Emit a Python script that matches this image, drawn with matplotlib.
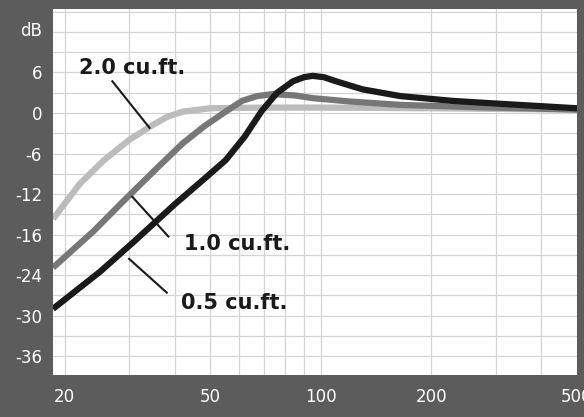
import matplotlib
matplotlib.use("Agg")
import matplotlib.pyplot as plt

freq_20 = [18.6, 22, 25.6, 30, 34.5, 38, 42, 50, 70, 100, 200, 500]
db_20 = [-15.7, -10.5, -7.0, -4.0, -1.9, -0.6, 0.2, 0.7, 0.8, 0.8, 0.7, 0.5]

freq_10 = [18.6, 24, 29, 36, 42, 48, 55, 61, 67, 74, 85, 95, 120, 165, 250, 500]
db_10 = [-22.9, -17.5, -13.0, -8.0, -4.5, -2.0, 0.2, 1.8, 2.5, 2.8, 2.6, 2.2, 1.7, 1.2, 0.9, 0.5]

freq_05 = [18.6, 25, 31, 40, 48, 55, 62, 69, 76, 84, 90, 95, 102, 110, 130, 165, 228, 300, 500]
db_05 = [-29.0, -23.5, -19.0, -13.5, -9.8, -7.0, -3.5, 0.3, 3.0, 4.7, 5.3, 5.5, 5.3, 4.7, 3.5, 2.5, 1.8, 1.4, 0.7]

y_ticks = [12.5, 6, 0, -6, -12, -18, -24, -30, -36]
y_labels = ["dB", "6", "0", "-6", "-12", "-16", "-24", "-30", "-36"]
x_ticks = [20, 50, 100, 200, 500]
x_labels = ["20", "50", "100", "200", "500"]

fig = plt.figure(figsize=(5.84, 4.17), dpi=100)
fig.patch.set_facecolor("#5c5c5c")
ax = fig.add_axes([53/584, 42/417, 524/584, 366/417])
ax.set_facecolor("white")
ax.set_xscale("log")
ax.set_xlim(18.6, 500)
ax.set_ylim(-38.8, 15.4)

for v in list(range(20, 100, 10)) + list(range(100, 600, 100)):
    ax.axvline(v, color="#d4d4d4", lw=0.9, zorder=0)
for h in range(-36, 16, 3):
    ax.axhline(h, color="#d4d4d4", lw=0.9, zorder=0)

ax.plot(freq_20, db_20, color="#bcbcbc", lw=4.5, solid_capstyle="butt", zorder=3)
ax.plot(freq_10, db_10, color="#777777", lw=4.5, solid_capstyle="butt", zorder=4)
ax.plot(freq_05, db_05, color="#1a1a1a", lw=4.5, solid_capstyle="butt", zorder=5)

ax.set_yticks(y_ticks)
ax.set_yticklabels(y_labels)
ax.set_xticks(x_ticks)
ax.set_xticklabels(x_labels)
ax.minorticks_off()
ax.tick_params(axis="both", length=0, colors="white", labelsize=12)
ax.tick_params(axis="y", pad=8)
ax.tick_params(axis="x", pad=9)
for s in ax.spines.values():
    s.set_visible(False)

lab = dict(fontsize=15, fontweight="bold", color="#1a1a1a", va="center", ha="left")
ax.text(21.9, 6.6, "2.0 cu.ft.", **lab)
ax.plot([27, 34.1], [4.7, -2.2], color="#1a1a1a", lw=1.5, zorder=6)
ax.text(42.3, -19.4, "1.0 cu.ft.", **lab)
ax.plot([30.6, 38.4], [-12.4, -18.3], color="#1a1a1a", lw=1.5, zorder=6)
ax.text(41.5, -28.1, "0.5 cu.ft.", **lab)
ax.plot([30, 38], [-21.6, -26.6], color="#1a1a1a", lw=1.5, zorder=6)

fig.savefig("out.png", dpi=100, facecolor=fig.get_facecolor())
